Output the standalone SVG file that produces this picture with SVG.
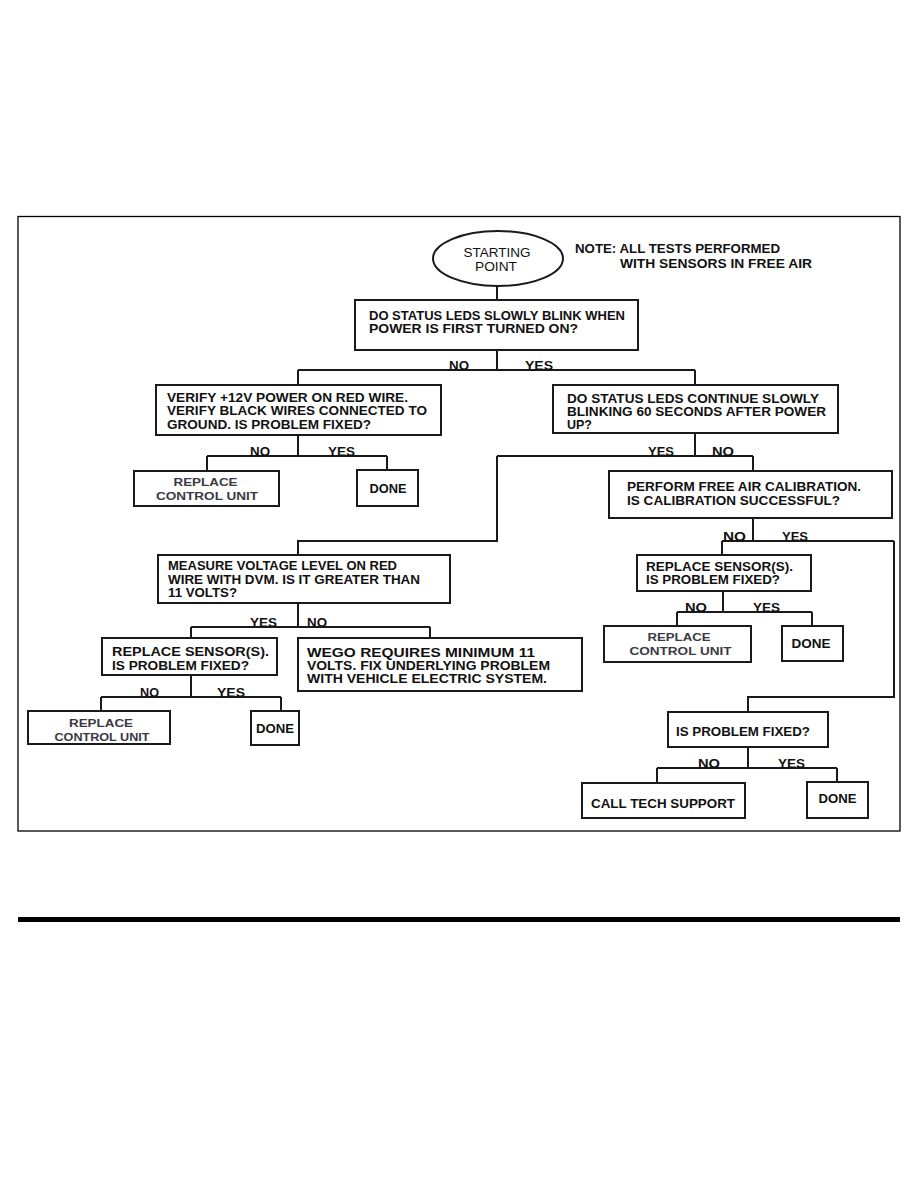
<svg xmlns="http://www.w3.org/2000/svg" width="918" height="1188" viewBox="0 0 918 1188">
<style>
.box{fill:#fff;stroke:#1a1a1a;stroke-width:2}
.ln{fill:none;stroke:#1a1a1a;stroke-width:2}
text{font-family:"Liberation Sans",Arial,sans-serif;font-weight:bold;font-size:13px;fill:#111}
.c{text-anchor:middle}
.g{fill:#3a3a42;font-size:11.5px}
.lb{font-size:12.5px}
</style>
<rect x="0" y="0" width="918" height="1188" fill="#fff"/>
<rect x="18" y="216.5" width="882" height="614.5" fill="none" stroke="#000" stroke-width="1.3"/>
<rect x="18" y="917" width="882" height="5" fill="#000"/>

<g id="connectors">
<path class="ln" d="M497 286V300M497 350V370M298 370H695M298 370V385M695 370V385"/>
<path class="ln" d="M298 435V456M207 456H387M207 456V471M387 456V470"/>
<path class="ln" d="M695 433V456M497 456H753M497 456V541H298V555M753 456V471"/>
<path class="ln" d="M753 518V541M722 541H894M722 541V555M894 541V697H748V712"/>
<path class="ln" d="M723 591V612M677 612H812M677 612V626M812 612V626"/>
<path class="ln" d="M298 603V627M191 627H430M191 627V638M430 627V638"/>
<path class="ln" d="M191 675V697M101 697H281M101 697V712M281 697V711"/>
<path class="ln" d="M748 747V768M657 768H837M657 768V783M837 768V782"/>
<text class="lb" x="449" y="369.5" textLength="20" lengthAdjust="spacingAndGlyphs">NO</text>
<text class="lb" x="525" y="369.5" textLength="28" lengthAdjust="spacingAndGlyphs">YES</text>
<text class="lb" x="250" y="455.5" textLength="20" lengthAdjust="spacingAndGlyphs">NO</text>
<text class="lb" x="328" y="455.5" textLength="27" lengthAdjust="spacingAndGlyphs">YES</text>
<text class="lb" x="648" y="455.5" textLength="26" lengthAdjust="spacingAndGlyphs">YES</text>
<text class="lb" x="712" y="455.5" textLength="22" lengthAdjust="spacingAndGlyphs">NO</text>
<text class="lb" x="723" y="540.5" textLength="23" lengthAdjust="spacingAndGlyphs">NO</text>
<text class="lb" x="782" y="540.5" textLength="26" lengthAdjust="spacingAndGlyphs">YES</text>
<text class="lb" x="685" y="611.5" textLength="22" lengthAdjust="spacingAndGlyphs">NO</text>
<text class="lb" x="753" y="611.5" textLength="27" lengthAdjust="spacingAndGlyphs">YES</text>
<text class="lb" x="250" y="626.5" textLength="27" lengthAdjust="spacingAndGlyphs">YES</text>
<text class="lb" x="307" y="626.5" textLength="20" lengthAdjust="spacingAndGlyphs">NO</text>
<text class="lb" x="140" y="696.5" textLength="19" lengthAdjust="spacingAndGlyphs">NO</text>
<text class="lb" x="217" y="696.5" textLength="28" lengthAdjust="spacingAndGlyphs">YES</text>
<text class="lb" x="698" y="767.5" textLength="22" lengthAdjust="spacingAndGlyphs">NO</text>
<text class="lb" x="778" y="767.5" textLength="27" lengthAdjust="spacingAndGlyphs">YES</text>
</g>

<g id="start">
<ellipse cx="498" cy="258.5" rx="65" ry="27.5" fill="#fff" stroke="#1a1a1a" stroke-width="2"/>
<text class="c" x="497" y="257" style="font-weight:normal;font-size:13.5px" textLength="67" lengthAdjust="spacingAndGlyphs">STARTING</text>
<text class="c" x="496" y="271" style="font-weight:normal;font-size:13.5px" textLength="42" lengthAdjust="spacingAndGlyphs">POINT</text>
</g>

<g id="note">
<text x="575" y="253" textLength="205" lengthAdjust="spacingAndGlyphs">NOTE: ALL TESTS PERFORMED</text>
<text x="620" y="267.5" textLength="192" lengthAdjust="spacingAndGlyphs">WITH SENSORS IN FREE AIR</text>
</g>

<g id="q-blink">
<rect class="box" x="355" y="300" width="283" height="50"/>
<text x="369" y="320" textLength="256" lengthAdjust="spacingAndGlyphs">DO STATUS LEDS SLOWLY BLINK WHEN</text>
<text x="369" y="333" textLength="209" lengthAdjust="spacingAndGlyphs">POWER IS FIRST TURNED ON?</text>
</g>

<g id="verify">
<rect class="box" x="156" y="385" width="285" height="50"/>
<text x="167" y="401.5" textLength="241" lengthAdjust="spacingAndGlyphs">VERIFY +12V POWER ON RED WIRE.</text>
<text x="167" y="415" textLength="260" lengthAdjust="spacingAndGlyphs">VERIFY BLACK WIRES CONNECTED TO</text>
<text x="167" y="428.5" textLength="204" lengthAdjust="spacingAndGlyphs">GROUND. IS PROBLEM FIXED?</text>
</g>

<g id="q-continue">
<rect class="box" x="553" y="385" width="285" height="48"/>
<text x="567" y="403" textLength="252" lengthAdjust="spacingAndGlyphs">DO STATUS LEDS CONTINUE SLOWLY</text>
<text x="567" y="416" textLength="259" lengthAdjust="spacingAndGlyphs">BLINKING 60 SECONDS AFTER POWER</text>
<text x="567" y="429" textLength="25" lengthAdjust="spacingAndGlyphs">UP?</text>
</g>

<g id="replace-1">
<rect class="box" x="134" y="471" width="145" height="35"/>
<text class="c g" x="205.5" y="486" textLength="64" lengthAdjust="spacingAndGlyphs">REPLACE</text>
<text class="c g" x="207" y="499.5" textLength="102" lengthAdjust="spacingAndGlyphs">CONTROL UNIT</text>
</g>

<g id="done-1">
<rect class="box" x="357" y="470" width="61" height="36"/>
<text class="c" x="388" y="493" textLength="37" lengthAdjust="spacingAndGlyphs">DONE</text>
</g>

<g id="perform">
<rect class="box" x="609" y="471" width="283" height="47"/>
<text x="627" y="490.5" textLength="234" lengthAdjust="spacingAndGlyphs">PERFORM FREE AIR CALIBRATION.</text>
<text x="627" y="504.5" textLength="213" lengthAdjust="spacingAndGlyphs">IS CALIBRATION SUCCESSFUL?</text>
</g>

<g id="measure">
<rect class="box" x="158" y="555" width="292" height="48"/>
<text x="168" y="569.5" textLength="229" lengthAdjust="spacingAndGlyphs">MEASURE VOLTAGE LEVEL ON RED</text>
<text x="168" y="583.5" textLength="252" lengthAdjust="spacingAndGlyphs">WIRE WITH DVM. IS IT GREATER THAN</text>
<text x="168" y="597" textLength="69" lengthAdjust="spacingAndGlyphs">11 VOLTS?</text>
</g>

<g id="sensor-r">
<rect class="box" x="637" y="555" width="174" height="36"/>
<text x="646" y="570.5" textLength="147" lengthAdjust="spacingAndGlyphs">REPLACE SENSOR(S).</text>
<text x="646" y="584" textLength="134" lengthAdjust="spacingAndGlyphs">IS PROBLEM FIXED?</text>
</g>

<g id="replace-r">
<rect class="box" x="604" y="626" width="147" height="36"/>
<text class="c g" x="679" y="641" textLength="63" lengthAdjust="spacingAndGlyphs">REPLACE</text>
<text class="c g" x="680.5" y="654.5" textLength="102" lengthAdjust="spacingAndGlyphs">CONTROL UNIT</text>
</g>

<g id="done-r">
<rect class="box" x="782" y="626" width="61" height="35"/>
<text class="c" x="811" y="648" textLength="39" lengthAdjust="spacingAndGlyphs">DONE</text>
</g>

<g id="sensor-l">
<rect class="box" x="102" y="638" width="175" height="37"/>
<text x="112" y="656" textLength="157" lengthAdjust="spacingAndGlyphs">REPLACE SENSOR(S).</text>
<text x="112" y="669.5" textLength="137" lengthAdjust="spacingAndGlyphs">IS PROBLEM FIXED?</text>
</g>

<g id="wego">
<rect class="box" x="298" y="638" width="284" height="53"/>
<text x="307" y="656.5" textLength="228" lengthAdjust="spacingAndGlyphs">WEGO REQUIRES MINIMUM 11</text>
<text x="307" y="670" textLength="243" lengthAdjust="spacingAndGlyphs">VOLTS. FIX UNDERLYING PROBLEM</text>
<text x="307" y="683" textLength="240" lengthAdjust="spacingAndGlyphs">WITH VEHICLE ELECTRIC SYSTEM.</text>
</g>

<g id="replace-l">
<rect class="box" x="28" y="711" width="142" height="33"/>
<text class="c g" x="101" y="727" textLength="64" lengthAdjust="spacingAndGlyphs">REPLACE</text>
<text class="c g" x="102" y="740.5" textLength="95" lengthAdjust="spacingAndGlyphs">CONTROL UNIT</text>
</g>

<g id="done-l">
<rect class="box" x="251" y="711" width="48" height="34"/>
<text class="c" x="275" y="733" textLength="38" lengthAdjust="spacingAndGlyphs">DONE</text>
</g>

<g id="is-fixed">
<rect class="box" x="668" y="712" width="160" height="35"/>
<text x="676" y="736" textLength="134" lengthAdjust="spacingAndGlyphs">IS PROBLEM FIXED?</text>
</g>

<g id="call">
<rect class="box" x="582" y="783" width="163" height="35"/>
<text x="591" y="808" textLength="144" lengthAdjust="spacingAndGlyphs">CALL TECH SUPPORT</text>
</g>

<g id="done-b">
<rect class="box" x="807" y="782" width="61" height="36"/>
<text class="c" x="837.5" y="803" textLength="38" lengthAdjust="spacingAndGlyphs">DONE</text>
</g>
</svg>
